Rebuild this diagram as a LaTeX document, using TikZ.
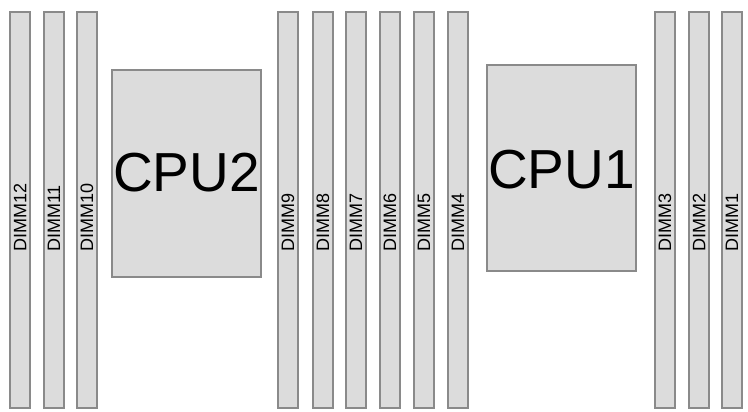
\documentclass[tikz,border=0pt]{standalone}
\usepackage{fontspec}
\setmainfont{Liberation Sans}
\definecolor{slotfill}{HTML}{DCDCDC}
\definecolor{slotline}{HTML}{8A8A8A}
\begin{document}
\begin{tikzpicture}[x=1pt,y=-1pt,
  part/.style={draw=slotline,fill=slotfill,line width=1.2pt},
  dlabel/.style={rotate=90,anchor=west,inner sep=0pt,font=\fontsize{18}{18}\selectfont},
  clabel/.style={inner sep=0pt,font=\fontsize{55}{55}\selectfont}]
\useasboundingbox (0,0) rectangle (748,412);
\foreach \n/\x in {12/10,11/44,10/77,9/278,8/313,7/346,6/380,5/414,4/448,3/655,2/689,1/722}{
  \draw[part] (\x,12) rectangle (\x+20,408);
  \node[dlabel] (d\n) at (\x+10,252) {DIMM\n};
}
\draw[part] (112,70) rectangle (261,277);
\node[clabel] (cpu2) at (186.5,173) {CPU2};
\draw[part] (487,65) rectangle (636,271);
\node[clabel] (cpu1) at (561.5,170) {CPU1};
\end{tikzpicture}
\end{document}
